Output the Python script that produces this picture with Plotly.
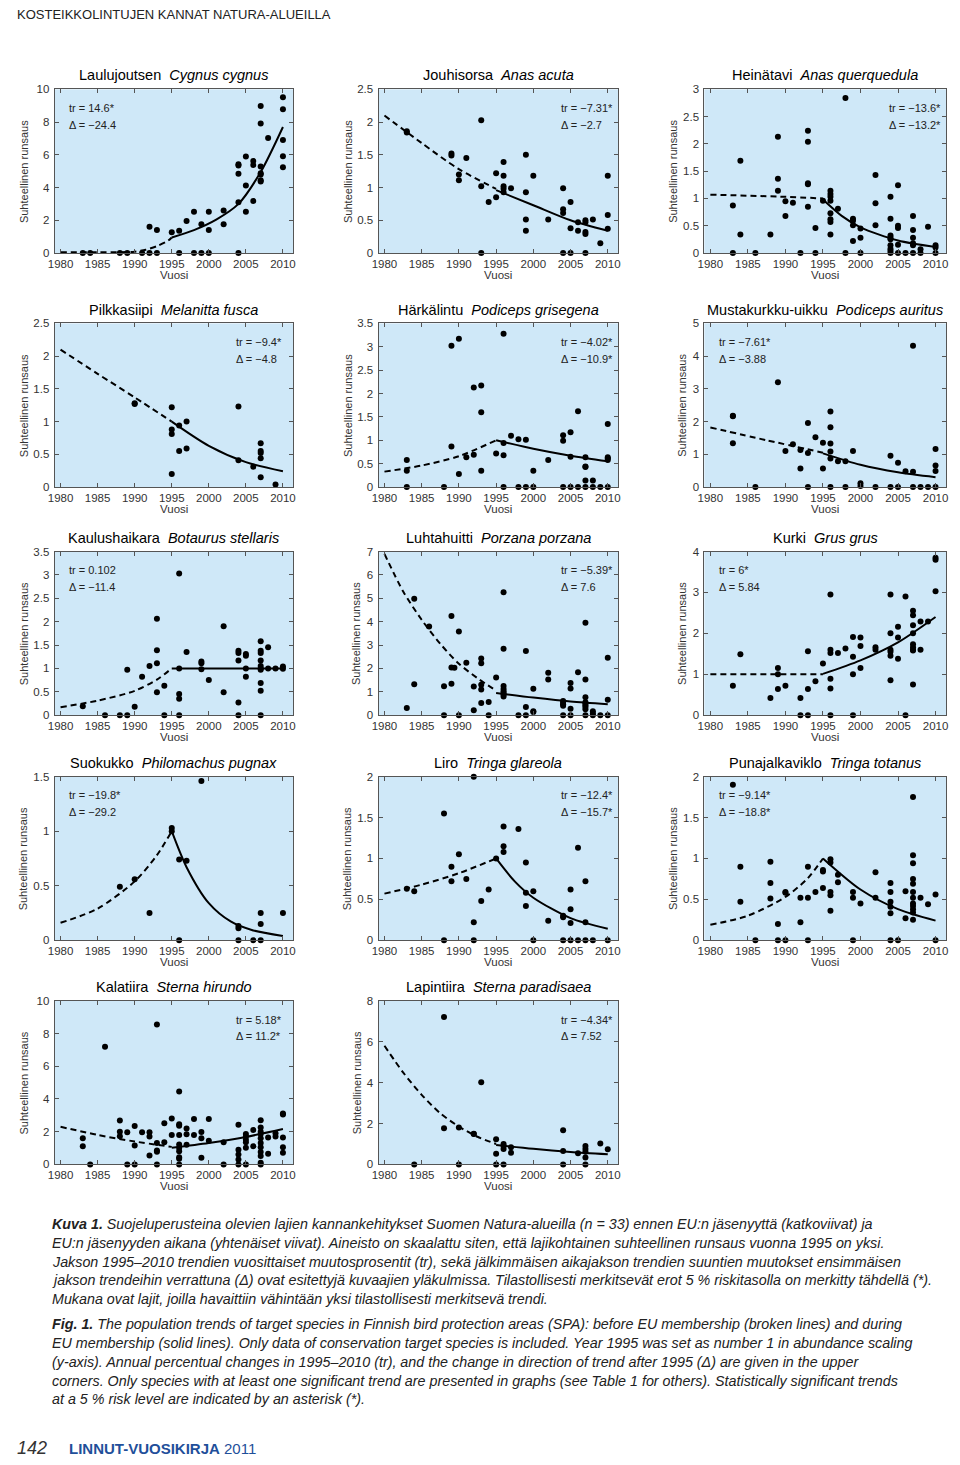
import plotly.graph_objects as go

# page is 960x1465; the browser adds an 8px body margin, so the figure is 944x1449
PAGE_MARGIN = 8
W, H = 960 - 2 * PAGE_MARGIN, 1465 - 2 * PAGE_MARGIN

# ------------------------------------------------------------------ data
# Observations: {year: [relative abundance values]}
CYGNUS_OBS = {1983: [0], 1984: [0], 1988: [0], 1989: [0], 1991: [0], 1992: [1.6, 0], 1993: [1.4, 0],
              1995: [1.27], 1996: [1.36, 0], 1997: [1.96], 1998: [2.52, 0], 1999: [1.76, 0],
              2000: [2.52, 1.4, 0], 2002: [2.6, 1.76], 2004: [5.42, 5.35, 4.85, 3.1, 0],
              2005: [5.9, 4.12, 2.52], 2006: [5.63, 5.38, 3.18],
              2007: [8.98, 7.92, 5.28, 4.87, 4.8, 4.45, 4.37], 2008: [7.03],
              2010: [9.52, 8.78, 6.9, 5.92, 5.24]}
CYGNUS_PRE_YEARS = [1980, 1985, 1988, 1990, 1991.5, 1993, 1994.5, 1995]
CYGNUS_PRE_TREND = [0.05, 0.05, 0.05, 0.08, 0.2, 0.42, 0.75, 0.95]
CYGNUS_POST_YEARS = [1995, 1998, 2001, 2004, 2007, 2010]
CYGNUS_POST_TREND = [0.95, 1.4, 2.04, 3.0, 4.95, 7.7]

ACUTA_OBS = {1983: [1.86, 1.84], 1989: [1.52, 1.49], 1990: [1.2, 1.11], 1991: [1.45],
             1993: [2.03, 1.02, 0], 1994: [0.78], 1995: [1.22, 0.85],
             1996: [1.39, 1.18, 1.02, 0.98, 0.93], 1997: [0.99], 1999: [1.5, 0.93, 0.51, 0.34],
             2000: [1.18], 2002: [0.51], 2004: [0.99, 0.67, 0.61, 0], 2005: [0.78, 0.38, 0],
             2006: [0.47, 0.34], 2007: [0.5, 0.47, 0.32, 0.29, 0], 2008: [0.51], 2009: [0.15],
             2010: [1.18, 0.58, 0.37]}
ACUTA_PRE_YEARS = [1980, 1985, 1990, 1995]
ACUTA_PRE_TREND = [2.1, 1.68, 1.28, 0.98]
ACUTA_POST_YEARS = [1995, 2000, 2005, 2010]
ACUTA_POST_TREND = [0.96, 0.73, 0.5, 0.34]

QUERQ_OBS = {1983: [0.87, 0], 1984: [1.69, 0.34], 1986: [0], 1988: [0.34], 1989: [2.13, 1.36, 1.14],
             1990: [0.95, 0.68], 1991: [0.92], 1992: [0], 1993: [2.24, 2.04, 1.28, 1.26, 0.85],
             1994: [0.46, 0], 1995: [0.96], 1996: [1.14, 1.08, 1.03, 0.96, 0.73, 0.62, 0.57, 0.34],
             1997: [0.81], 1998: [2.84, 0], 1999: [0.63, 0.59, 0.51, 0.22], 2000: [0.45, 0.28, 0],
             2002: [1.43, 0.91, 0.51], 2004: [1.03, 0.63, 0.32, 0.28, 0.25, 0.14, 0.08, 0.04, 0],
             2005: [1.24, 0.5, 0.46, 0.15, 0], 2006: [0], 2007: [0.68, 0.42, 0.28, 0.18, 0.14, 0],
             2008: [0.07, 0], 2009: [0.48], 2010: [0.14, 0.1, 0]}
QUERQ_PRE_YEARS = [1980, 1990, 1995]
QUERQ_PRE_TREND = [1.07, 1.03, 1.0]
QUERQ_POST_YEARS = [1995, 1997.5, 2000, 2005, 2010]
QUERQ_POST_TREND = [0.98, 0.68, 0.47, 0.23, 0.11]

FUSCA_OBS = {1990: [1.28, 1.27], 1995: [1.22, 0.88, 0.81, 0.2], 1996: [0.94, 0.55], 1997: [1.0, 0.59],
             2004: [1.23, 0.41], 2006: [0.31], 2007: [0.67, 0.55, 0.52, 0.44, 0.15], 2009: [0.04]}
FUSCA_PRE_YEARS = [1980, 1985, 1990, 1995]
FUSCA_PRE_TREND = [2.1, 1.73, 1.37, 1.0]
FUSCA_POST_YEARS = [1995, 2000, 2005, 2010]
FUSCA_POST_TREND = [1.0, 0.63, 0.38, 0.24]

GRISEG_OBS = {1983: [0.58, 0.35, 0], 1988: [0], 1989: [3.02, 0.87], 1990: [3.17, 0.28], 1991: [0.64],
              1992: [2.13, 0.69], 1993: [2.17, 1.6, 0.35], 1995: [0.72], 1996: [3.28, 0.94, 0.68, 0],
              1997: [1.1], 1998: [1.02, 0], 1999: [1.01, 0], 2000: [0.35, 0], 2002: [0.58],
              2004: [1.11, 0.99, 0], 2005: [1.17, 0.65, 0], 2006: [1.62, 0],
              2007: [0.64, 0.44, 0.43, 0.14, 0], 2008: [0.14, 0], 2009: [0],
              2010: [1.35, 0.64, 0.61, 0.58, 0]}
GRISEG_PRE_YEARS = [1980, 1985, 1990, 1995]
GRISEG_PRE_TREND = [0.33, 0.46, 0.66, 1.0]
GRISEG_POST_YEARS = [1995, 2000, 2005, 2010]
GRISEG_POST_TREND = [1.0, 0.82, 0.67, 0.55]

AURITUS_OBS = {1983: [2.18, 2.16, 1.34], 1986: [0], 1989: [3.2], 1990: [1.1], 1991: [1.31],
               1992: [1.13, 0.57], 1993: [1.96, 1.04, 0], 1994: [1.52], 1995: [1.35, 0.57],
               1996: [2.31, 1.83, 1.33, 1.09, 0.87, 0], 1997: [0.79], 1998: [0.79, 0], 1999: [1.1],
               2000: [0.12, 0.03], 2002: [0], 2004: [0.96, 0], 2005: [0.74, 0], 2006: [0.48],
               2007: [4.32, 0.47, 0], 2008: [0], 2009: [0], 2010: [1.16, 0.66, 0.49, 0]}
AURITUS_PRE_YEARS = [1980, 1987.5, 1995]
AURITUS_PRE_TREND = [1.82, 1.43, 1.05]
AURITUS_POST_YEARS = [1995, 2000, 2005, 2010]
AURITUS_POST_TREND = [1.03, 0.68, 0.45, 0.3]

STELL_OBS = {1983: [0.19], 1986: [0], 1988: [0], 1989: [0.97, 0], 1990: [0.18], 1991: [0.82],
             1992: [1.05], 1993: [2.06, 1.39, 1.11, 0.49], 1994: [0.63, 0],
             1996: [3.03, 1.0, 0.45, 0.35, 0], 1997: [1.35], 1999: [1.15, 1.11, 0.98], 2000: [0.75],
             2002: [1.9, 0.49], 2004: [1.38, 1.33, 1.17, 0.27, 0], 2005: [1.31, 1.27, 1.0, 0.82],
             2007: [1.58, 1.38, 1.33, 1.17, 1.05, 1.0, 0.97, 0.69, 0.52, 0], 2008: [1.45, 1.0],
             2009: [1.0], 2010: [1.04, 0.99]}
STELL_PRE_YEARS = [1980, 1985, 1990, 1993, 1995]
STELL_PRE_TREND = [0.17, 0.31, 0.52, 0.76, 1.0]
STELL_POST_YEARS = [1995, 2010]
STELL_POST_TREND = [1.0, 1.0]

PORZANA_OBS = {1983: [0.31], 1984: [4.98, 1.32], 1986: [3.79], 1988: [1.24, 0], 1989: [4.24, 2.04, 1.34],
               1989.4: [2.03], 1990: [3.58, 0], 1991: [2.24], 1992: [1.23, 0.21],
               1993: [2.42, 2.22, 1.3, 1.1, 0.52], 1994: [0.56, 0], 1995: [1.61],
               1996: [5.26, 2.84, 1.25, 1.12, 1.02, 0.95, 0.88, 0.8], 1998: [0], 1999: [2.74, 0.35, 0],
               2000: [1.13, 0.17, 0.13], 2002: [1.81, 1.52], 2004: [0.61, 0.53, 0.47, 0.4, 0],
               2005: [1.38, 1.14, 0.27, 0], 2006: [1.84],
               2007: [3.95, 1.52, 0.77, 0.55, 0.5, 0.42, 0.35, 0.25, 0], 2008: [0.17, 0.06, 0],
               2009: [0], 2010: [2.45, 0.66, 0]}
PORZANA_PRE_YEARS = [1980, 1982.5, 1985, 1987.5, 1990, 1992.5, 1995]
PORZANA_PRE_TREND = [6.9, 5.3, 4.08, 3.05, 2.2, 1.58, 1.05]
PORZANA_POST_YEARS = [1995, 2000, 2005, 2010]
PORZANA_POST_TREND = [0.95, 0.75, 0.58, 0.47]

GRUS_OBS = {1983: [0.72], 1984: [1.49], 1988: [0.42], 1989: [1.15, 1.0, 0.64], 1990: [0.72],
            1992: [0.42, 0], 1993: [1.56, 0.64, 0], 1994: [0.83], 1995: [1.26],
            1996: [2.95, 1.6, 1.52, 0.89, 0.65, 0], 1997: [1.52], 1998: [1.63],
            1999: [1.91, 1.43, 1.0, 0], 2000: [1.9, 1.69, 1.15], 2002: [1.66, 1.6],
            2004: [2.95, 2.0, 1.6, 1.55, 1.45, 0.85], 2005: [2.16, 1.9, 1.38], 2006: [2.9, 0],
            2007: [2.55, 2.44, 2.2, 2.0, 1.73, 1.66, 1.6, 1.58, 0.75], 2008: [2.29, 1.6],
            2009: [2.29], 2010: [3.85, 3.8, 3.03]}
GRUS_PRE_YEARS = [1980, 1995]
GRUS_PRE_TREND = [1.0, 1.0]
GRUS_POST_YEARS = [1995, 2000, 2005, 2010]
GRUS_POST_TREND = [1.01, 1.34, 1.78, 2.4]

PUGNAX_OBS = {1988: [0.49], 1990: [0.56], 1992: [0.25], 1995: [1.03, 1.0], 1996: [0.74, 0],
              1997: [0.73], 1999: [1.46], 2004: [0.13, 0.11, 0], 2006: [0], 2007: [0.25, 0.15, 0],
              2010: [0.25]}
PUGNAX_PRE_YEARS = [1980, 1985, 1990, 1993, 1995]
PUGNAX_PRE_TREND = [0.16, 0.29, 0.54, 0.78, 1.0]
PUGNAX_POST_YEARS = [1995, 1997, 2000, 2003, 2006, 2010]
PUGNAX_POST_TREND = [1.0, 0.67, 0.34, 0.17, 0.09, 0.04]

GLAREOLA_OBS = {1983: [0.63], 1984: [0.6], 1988: [1.55, 0], 1989: [0.9, 0.72], 1990: [1.05],
                1991: [0.75], 1992: [2.0, 0.22, 0], 1993: [0.48], 1994: [0.62], 1995: [1.0],
                1996: [1.39, 1.15, 1.08], 1998: [1.36], 1999: [0.95, 0.58, 0.42], 2000: [0.6, 0],
                2002: [0.24], 2004: [0.3, 0.28, 0], 2005: [0.62, 0.38, 0.21, 0], 2006: [1.13, 0],
                2007: [0.72, 0.22, 0], 2008: [0], 2010: [0]}
GLAREOLA_PRE_YEARS = [1980, 1985, 1990, 1995]
GLAREOLA_PRE_TREND = [0.57, 0.68, 0.82, 1.0]
GLAREOLA_POST_YEARS = [1995, 1997.5, 2000, 2005, 2010]
GLAREOLA_POST_TREND = [1.0, 0.72, 0.52, 0.27, 0.14]

TOTANUS_OBS = {1983: [1.9], 1984: [0.9, 0.47], 1986: [0], 1988: [0.96, 0.7, 0.51], 1989: [0.2, 0],
               1990: [0.59, 0.58, 0], 1992: [0.52, 0.22], 1993: [0.9, 0.52, 0], 1994: [0.59],
               1995: [0.86, 0.84, 0.64], 1996: [0.99, 0.95, 0.59, 0.55, 0.36], 1997: [0.8, 0.71],
               1999: [0.59, 0.52, 0], 2000: [0.45], 2002: [0.83, 0.52],
               2004: [0.7, 0.59, 0.47, 0.41, 0.33, 0], 2005: [0], 2006: [0.6, 0.27],
               2007: [1.75, 1.04, 0.94, 0.75, 0.69, 0.59, 0.52, 0.45, 0.42, 0.38, 0.34, 0.25],
               2008: [0.52], 2009: [0.44], 2010: [0.56, 0]}
TOTANUS_PRE_YEARS = [1980, 1985, 1990, 1993, 1995]
TOTANUS_PRE_TREND = [0.19, 0.3, 0.53, 0.76, 1.0]
TOTANUS_POST_YEARS = [1995, 2000, 2005, 2010]
TOTANUS_POST_TREND = [1.0, 0.62, 0.38, 0.24]

HIRUNDO_OBS = {1983: [1.6, 1.11], 1984: [0], 1986: [7.19], 1988: [2.68, 2.0, 1.72], 1989: [1.96, 0],
               1990: [2.34, 1.15, 0], 1991: [1.96], 1992: [1.96, 1.7, 0.55],
               1993: [8.55, 1.31, 0.85, 0.78, 0], 1994: [2.52, 1.35], 1995: [2.81, 1.8],
               1996: [4.46, 2.46, 2.36, 1.8, 1.21, 1.0, 0.81, 0.44, 0.35, 0], 1997: [2.2, 1.84, 1.2],
               1998: [2.77, 1.8], 1999: [1.98, 1.6, 0.4], 2000: [2.77, 1.45], 2002: [1.35, 0],
               2004: [2.42, 0.89, 0.6, 0.3, 0], 2005: [1.86, 1.7, 1.51, 1.35, 1.01, 0],
               2006: [2.1, 1.11], 2007: [2.7, 2.26, 2.0, 1.86, 1.6, 1.31, 1.05, 0.75, 0.51, 0.1, 0],
               2008: [1.64, 0.65], 2009: [1.9, 1.7], 2010: [3.11, 3.05, 1.64, 1.05, 0.71]}
HIRUNDO_PRE_YEARS = [1980, 1985, 1990, 1995]
HIRUNDO_PRE_TREND = [2.3, 1.8, 1.4, 1.07]
HIRUNDO_POST_YEARS = [1995, 2000, 2005, 2010]
HIRUNDO_POST_TREND = [1.02, 1.31, 1.68, 2.16]

PARADIS_OBS = {1984: [0], 1988: [7.2, 1.77], 1990: [1.8, 0], 1992: [1.5, 1.48], 1993: [4.02],
               1995: [1.23, 0.52, 0], 1996: [1.0, 0.9, 0.75, 0], 1997: [0.84, 0.57],
               2004: [1.67, 0.65, 0], 2006: [0.55], 2007: [0.9, 0.75, 0.62, 0.34, 0], 2009: [1.02],
               2010: [0.74]}
PARADIS_PRE_YEARS = [1980, 1982.5, 1985, 1987.5, 1990, 1992.5, 1995]
PARADIS_PRE_TREND = [5.8, 4.5, 3.4, 2.5, 1.85, 1.35, 1.0]
PARADIS_POST_YEARS = [1995, 2000, 2005, 2010]
PARADIS_POST_TREND = [0.95, 0.76, 0.61, 0.5]

SPECIES_FI = ["Laulujoutsen", "Jouhisorsa", "Heinätavi", "Pilkkasiipi", "Härkälintu",
              "Mustakurkku-uikku", "Kaulushaikara", "Luhtahuitti", "Kurki", "Suokukko",
              "Liro", "Punajalkaviklo", "Kalatiira", "Lapintiira"]
SPECIES_LAT = ["Cygnus cygnus", "Anas acuta", "Anas querquedula", "Melanitta fusca",
               "Podiceps grisegena", "Podiceps auritus", "Botaurus stellaris", "Porzana porzana",
               "Grus grus", "Philomachus pugnax", "Tringa glareola", "Tringa totanus",
               "Sterna hirundo", "Sterna paradisaea"]
TR_LABELS = ["tr = 14.6*", "tr = −7.31*", "tr = −13.6*", "tr = −9.4*", "tr = −4.02*", "tr = −7.61*",
             "tr = 0.102", "tr = −5.39*", "tr = 6*", "tr = −19.8*", "tr = −12.4*", "tr = −9.14*",
             "tr = 5.18*", "tr = −4.34*"]
DELTA_LABELS = ["Δ = −24.4", "Δ = −2.7", "Δ = −13.2*", "Δ = −4.8", "Δ = −10.9*", "Δ = −3.88",
                "Δ = −11.4", "Δ = 7.6", "Δ = 5.84", "Δ = −29.2", "Δ = −15.7*", "Δ = −18.8*",
                "Δ = 11.2*", "Δ = 7.52"]
Y_MAX = [10, 2.5, 3, 2.5, 3.5, 5, 3.5, 7, 4, 1.5, 2, 2, 10, 8]
Y_STEP = [2, 0.5, 0.5, 0.5, 0.5, 1, 0.5, 1, 1, 0.5, 0.5, 0.5, 2, 2]
X_TICKS = [1980, 1985, 1990, 1995, 2000, 2005, 2010]

OBS = [CYGNUS_OBS, ACUTA_OBS, QUERQ_OBS, FUSCA_OBS, GRISEG_OBS, AURITUS_OBS, STELL_OBS,
       PORZANA_OBS, GRUS_OBS, PUGNAX_OBS, GLAREOLA_OBS, TOTANUS_OBS, HIRUNDO_OBS, PARADIS_OBS]
PRE = [(CYGNUS_PRE_YEARS, CYGNUS_PRE_TREND), (ACUTA_PRE_YEARS, ACUTA_PRE_TREND),
       (QUERQ_PRE_YEARS, QUERQ_PRE_TREND), (FUSCA_PRE_YEARS, FUSCA_PRE_TREND),
       (GRISEG_PRE_YEARS, GRISEG_PRE_TREND), (AURITUS_PRE_YEARS, AURITUS_PRE_TREND),
       (STELL_PRE_YEARS, STELL_PRE_TREND), (PORZANA_PRE_YEARS, PORZANA_PRE_TREND),
       (GRUS_PRE_YEARS, GRUS_PRE_TREND), (PUGNAX_PRE_YEARS, PUGNAX_PRE_TREND),
       (GLAREOLA_PRE_YEARS, GLAREOLA_PRE_TREND), (TOTANUS_PRE_YEARS, TOTANUS_PRE_TREND),
       (HIRUNDO_PRE_YEARS, HIRUNDO_PRE_TREND), (PARADIS_PRE_YEARS, PARADIS_PRE_TREND)]
POST = [(CYGNUS_POST_YEARS, CYGNUS_POST_TREND), (ACUTA_POST_YEARS, ACUTA_POST_TREND),
        (QUERQ_POST_YEARS, QUERQ_POST_TREND), (FUSCA_POST_YEARS, FUSCA_POST_TREND),
        (GRISEG_POST_YEARS, GRISEG_POST_TREND), (AURITUS_POST_YEARS, AURITUS_POST_TREND),
        (STELL_POST_YEARS, STELL_POST_TREND), (PORZANA_POST_YEARS, PORZANA_POST_TREND),
        (GRUS_POST_YEARS, GRUS_POST_TREND), (PUGNAX_POST_YEARS, PUGNAX_POST_TREND),
        (GLAREOLA_POST_YEARS, GLAREOLA_POST_TREND), (TOTANUS_POST_YEARS, TOTANUS_POST_TREND),
        (HIRUNDO_POST_YEARS, HIRUNDO_POST_TREND), (PARADIS_POST_YEARS, PARADIS_POST_TREND)]

CAPTION_FI = [
    "<b>Kuva 1.</b> Suojeluperusteina olevien lajien kannankehitykset Suomen Natura-alueilla (n = 33) ennen EU:n jäsenyyttä (katkoviivat) ja",
    "EU:n jäsenyyden aikana (yhtenäiset viivat). Aineisto on skaalattu siten, että lajikohtainen suhteellinen runsaus vuonna 1995 on yksi.",
    "Jakson 1995–2010 trendien vuosittaiset muutosprosentit (tr), sekä jälkimmäisen aikajakson trendien suuntien muutokset ensimmäisen",
    "jakson trendeihin verrattuna (Δ) ovat esitettyjä kuvaajien yläkulmissa. Tilastollisesti merkitsevät erot 5 % riskitasolla on merkitty tähdellä (*).",
    "Mukana ovat lajit, joilla havaittiin vähintään yksi tilastollisesti merkitsevä trendi.",
]
CAPTION_EN = [
    "<b>Fig. 1.</b> The population trends of target species in Finnish bird protection areas (SPA): before EU membership (broken lines) and during",
    "EU membership (solid lines). Only data of conservation target species is included. Year 1995 was set as number 1 in abundance scaling",
    "(y-axis). Annual percentual changes in 1995–2010 (tr), and the change in direction of trend after 1995 (Δ) are given in the upper",
    "corners. Only species with at least one significant trend are presented in graphs (see Table 1 for others). Statistically significant trends",
    "at a 5 % risk level are indicated by an asterisk (*).",
]

# ------------------------------------------------------------------ layout geometry (page px)
COLS = [(48, 289), (375, 617), (704, 948)]
ROWS = [(84, 249), (320, 485), (550, 715), (777, 942), (1003, 1168)]
TEXT_RIGHT = {1, 2, 3, 4, 7, 10, 12, 13}  # 0-based panels with tr/Δ at right
XRANGE = [1979.2, 2011.4]

FONT = "Liberation Sans, Arial, sans-serif"
CAP_FONT = "Liberation Sans, Arial, sans-serif"
BG = "#cfe8f8"
AX_COL = "#555555"
TXT = "#333333"


def fx(p):
    return (p - PAGE_MARGIN) / W


def fy(p):
    return 1 - (p - PAGE_MARGIN) / H


fig = go.Figure()
layout = {}
ann = []

for i in range(14):
    n = i + 1
    r, c = divmod(i, 3)
    x0, x1 = COLS[c]
    y0, y1 = ROWS[r]
    xname = "xaxis" if n == 1 else f"xaxis{n}"
    yname = "yaxis" if n == 1 else f"yaxis{n}"
    xref = "x" if n == 1 else f"x{n}"
    yref = "y" if n == 1 else f"y{n}"

    common = dict(showline=True, linecolor=AX_COL, linewidth=1, mirror="ticks", ticks="inside",
                  ticklen=4, tickcolor=AX_COL, showgrid=False, zeroline=False,
                  tickfont=dict(family=FONT, size=11.5, color=TXT))
    layout[xname] = dict(domain=[fx(x0), fx(x1)], range=XRANGE, anchor=yref,
                         tickvals=X_TICKS, ticklabelstandoff=0, **common)
    ymax, ystep = Y_MAX[i], Y_STEP[i]
    nt = int(round(ymax / ystep))
    layout[yname] = dict(domain=[fy(y1), fy(y0)], range=[0, ymax], anchor=xref,
                         tickvals=[k * ystep for k in range(nt + 1)], ticklabelstandoff=2,
                         **common)

    obs = OBS[i]
    xs = [yr for yr, vals in obs.items() for _ in vals]
    ys = [v for vals in obs.values() for v in vals]
    px_, py_ = PRE[i]
    qx_, qy_ = POST[i]
    fig.add_trace(go.Scatter(x=px_, y=py_, mode="lines", xaxis=xref, yaxis=yref,
                             line=dict(color="black", width=2, dash="6px,4px", shape="spline",
                                       smoothing=0.8), hoverinfo="skip", showlegend=False))
    fig.add_trace(go.Scatter(x=qx_, y=qy_, mode="lines", xaxis=xref, yaxis=yref,
                             line=dict(color="black", width=2, shape="spline", smoothing=0.8),
                             hoverinfo="skip", showlegend=False))
    fig.add_trace(go.Scatter(x=xs, y=ys, mode="markers", xaxis=xref, yaxis=yref,
                             marker=dict(color="black", size=6), cliponaxis=False,
                             showlegend=False))

    # title
    ann.append(dict(text=f"{SPECIES_FI[i]}\u00a0\u00a0<i>{SPECIES_LAT[i]}</i>", xref="paper", yref="paper",
                    x=fx((x0 + x1) / 2), y=fy(y0 - 14), xanchor="center", yanchor="middle",
                    showarrow=False, font=dict(family=FONT, size=14.5, color="black")))
    # axis titles
    ann.append(dict(text="Vuosi", xref="paper", yref="paper", x=fx((x0 + x1) / 2), y=fy(y1 + 22),
                    xanchor="center", yanchor="middle", showarrow=False,
                    font=dict(family=FONT, size=11.5, color=TXT)))
    wide = any(len(f"{k * ystep:g}") > 1 for k in range(nt + 1))
    off = 31 if wide else 22
    ann.append(dict(text="Suhteellinen runsaus", xref="paper", yref="paper", x=fx(x0 - off),
                    y=fy((y0 + y1) / 2), xanchor="center", yanchor="middle", textangle=-90,
                    showarrow=False, font=dict(family=FONT, size=11, color=TXT)))
    # tr / delta
    tx = x1 - 60 if i in TEXT_RIGHT else x0 + 13
    for lab, dy in ((TR_LABELS[i], 19), (DELTA_LABELS[i], 36)):
        ann.append(dict(text=lab, xref="paper", yref="paper", x=fx(tx), y=fy(y0 + dy),
                        xanchor="left", yanchor="middle", showarrow=False,
                        font=dict(family=FONT, size=11, color="#222222")))

# header
ann.append(dict(text="KOSTEIKKOLINTUJEN KANNAT NATURA-ALUEILLA", xref="paper", yref="paper",
                x=fx(8), y=fy(9), xanchor="left", yanchor="middle", showarrow=False,
                font=dict(family=FONT, size=13, color="#222222")))
# captions
for k, line in enumerate(CAPTION_FI):
    ann.append(dict(text=line, xref="paper", yref="paper", x=fx(43), y=fy(1228 + 19 * k),
                    xanchor="left", yanchor="middle", showarrow=False,
                    font=dict(family=CAP_FONT, size=14.3, color="#222222", style="italic")))
for k, line in enumerate(CAPTION_EN):
    ann.append(dict(text=line, xref="paper", yref="paper", x=fx(43), y=fy(1329 + 19 * k),
                    xanchor="left", yanchor="middle", showarrow=False,
                    font=dict(family=CAP_FONT, size=14.3, color="#222222", style="italic")))
# footer
ann.append(dict(text="142", xref="paper", yref="paper", x=fx(8), y=fy(1454), xanchor="left",
                yanchor="middle", showarrow=False,
                font=dict(family=FONT, size=18, color="#333333", style="italic")))
ann.append(dict(text="<b>LINNUT-VUOSIKIRJA</b> 2011", xref="paper", yref="paper", x=fx(61),
                y=fy(1454), xanchor="left", yanchor="middle", showarrow=False,
                font=dict(family=FONT, size=15, color="#1f4f9a")))

fig.update_layout(width=W, height=H, margin=dict(l=0, r=0, t=0, b=0), paper_bgcolor="white",
                  plot_bgcolor=BG, showlegend=False, annotations=ann, **layout)
fig.write_html("out.html")
